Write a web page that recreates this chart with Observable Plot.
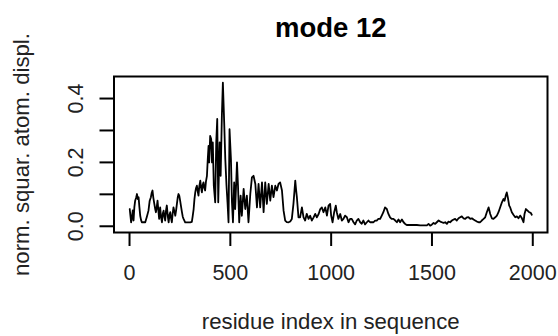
<!DOCTYPE html>
<html><head><meta charset="utf-8">
<script src="https://cdn.jsdelivr.net/npm/d3@7"></script>
<script src="https://cdn.jsdelivr.net/npm/@observablehq/plot@0.6"></script>
<style>html,body{margin:0;padding:0;background:#fff} svg{display:block}</style>
</head><body><div id="chart"></div>
<script>
// residue index (x) and normalised squared atomic displacement (y)
const residue = [
  1,5,8,12,16,20,24,28,33,37,41,45,49,53,57,61,70,78,86,94,100,106,110,114,118,123,127,131,135,139,143,147,150,152,156,161,165,169,173,177,181,185,190,194,198,202,206,210,214,218,223,227,231,235,239,243,247,251,256,260,264,268,276,285,293,301,309,
  313,318,322,326,330,334,338,342,346,351,355,359,363,367,371,375,379,384,388,392,395,400,405,409,413,418,425,430,435,440,447,452,458,463,470,475,481,486,491,496,503,508,513,519,524,533,538,544,551,557,566,574,582,590,599,607,615,
  624,632,640,648,657,665,673,681,690,698,706,714,723,731,739,747,756,764,772,780,789,797,805,813,818,822,826,830,838,846,855,863,871,879,888,896,904,913,921,929,
  938,946,954,962,971,979,987,995,1000,1007,1015,1023,1028,1036,1045,1053,1061,1069,1078,1086,1094,1102,1111,1119,1127,1135,1144,1152,1160,1168,1177,1185,1193,1201,1210,1218,1226,1234,1243,1251,1259,1267,1276,1284,1292,1300,
  1309,1318,1326,1334,1342,1351,1359,1367,1375,1392,1409,1425,1442,1458,1475,1483,1491,1499,1508,1516,1524,1533,1541,1549,1557,1566,1574,1582,1590,1599,1607,1615,1623,1632,1640,1648,1656,1665,1673,1681,
  1690,1698,1706,1714,1723,1731,1739,1747,1756,1764,1772,1781,1789,1797,1805,1814,1822,1830,1838,1847,1855,1860,1866,1871,1876,1883,1888,1896,1904,1913,1921,1929,1938,1946,1954,1959,1966,1974,1982,1990,1995
];
const displ = [
  0.054,0.03,0.0125,0.028,0.05,0.018,0.06,0.08,0.09,0.101,0.085,0.091,0.06,0.033,0.02,0.0125,0.013,0.0125,0.03,0.049,0.08,0.091,0.105,0.112,0.09,0.07,0.055,0.044,0.06,0.08,0.05,0.023,0.045,0.059,0.03,0.0125,0.04,0.049,0.03,0.018,0.05,0.065,0.03,0.0125,0.035,0.044,0.025,0.0125,0.04,0.059,0.045,0.033,0.05,0.07,0.09,0.101,0.095,0.08,0.06,0.044,0.03,0.023,0.0125,0.0125,0.012,0.0125,0.014,
  0.03,0.054,0.085,0.106,0.12,0.127,0.11,0.096,0.125,0.143,0.12,0.106,0.13,0.1375,0.12,0.112,0.14,0.158,0.21,0.252,0.2,0.283,0.273,0.2,0.2625,0.127,0.075,0.2625,0.336,0.075,0.2625,0.158,0.346,0.45,0.315,0.21,0.127,0.075,0.0125,0.304,0.21,0.075,0.0125,0.137,0.054,0.2,0.127,0.0125,0.096,0.033,0.117,0.054,0.096,0.0125,0.101,0.153,0.158,
  0.1325,0.059,0.1325,0.059,0.1375,0.044,0.1375,0.07,0.1325,0.08,0.127,0.091,0.127,0.112,0.1325,0.1375,0.112,0.049,0.018,0.013,0.0125,0.015,0.023,0.07,0.11,0.143,0.115,0.091,0.028,0.028,0.059,0.028,0.018,0.039,0.023,0.033,0.018,0.028,0.039,0.028,
  0.0385,0.054,0.059,0.044,0.059,0.0334,0.0647,0.07,0.0334,0.0126,0.044,0.0647,0.044,0.023,0.0385,0.018,0.023,0.0334,0.0282,0.0126,0.023,0.023,0.0126,0.006,0.018,0.023,0.0126,0.008,0.018,0.006,0.0126,0.018,0.0126,0.0126,0.0126,0.018,0.018,0.023,0.023,0.0334,0.044,0.059,0.054,0.0385,0.0282,0.023,
  0.023,0.018,0.0126,0.021,0.0126,0.021,0.0126,0.0074,0.004,0.004,0.004,0.004,0.003,0.003,0.003,0.0074,0.002,0.005,0.0105,0.0074,0.0126,0.018,0.0147,0.0126,0.0105,0.0126,0.0074,0.0147,0.0126,0.018,0.021,0.023,0.018,0.025,0.028,0.031,0.025,0.023,0.028,0.0282,
  0.023,0.025,0.021,0.018,0.0147,0.0126,0.0126,0.018,0.023,0.0282,0.044,0.059,0.0385,0.025,0.023,0.0282,0.0334,0.044,0.059,0.075,0.0855,0.08,0.096,0.106,0.091,0.0647,0.059,0.044,0.036,0.0282,0.031,0.025,0.0334,0.025,0.0126,0.0385,0.054,0.049,0.044,0.042,0.036
];
const xTicks = [0, 500, 1000, 1500, 2000];
const yTicks = [0, 0.1, 0.2, 0.3, 0.4];
const yTickLabels = [0, 0.2, 0.4];
const chartTitle = "mode 12";
const xTitle = "residue index in sequence";
const yTitle = "norm. squar. atom. displ.";

const data = residue.map((x, i) => ({x, y: displ[i]}));
const font = "'Liberation Sans', Arial, Helvetica, sans-serif";
const fs = 21.5;
const fsTitle = 22.2;

const plot = Plot.plot({
  width: 558, height: 336,
  marginLeft: 113.5, marginRight: 11, marginTop: 76, marginBottom: 104,
  style: {fontFamily: font, background: "white", color: "black", overflow: "visible"},
  x: {domain: [-77, 2073], axis: null},
  y: {domain: [-0.0195, 0.469], axis: null},
  marks: [
    Plot.line(data, {x: "x", y: "y", stroke: "black", strokeWidth: 1.8, strokeLinejoin: "round"}),
    Plot.frame({stroke: "black", strokeWidth: 2}),
    Plot.axisX(xTicks, {tickSize: 14, strokeWidth: 2, tickFormat: () => "", label: null}),
    Plot.axisY(yTicks, {tickSize: 14, strokeWidth: 2, tickFormat: () => "", label: null}),
    Plot.text(xTicks, {x: d => d, text: d => String(d), frameAnchor: "bottom", dy: 47.3, lineAnchor: "bottom", textAnchor: "middle", fontSize: fs, fill: "#222"}),
    Plot.text(yTickLabels, {y: d => d, text: d => d.toFixed(1), frameAnchor: "left", dx: -30.8, rotate: -90, lineAnchor: "bottom", textAnchor: "middle", fontSize: fs, fill: "#222"}),
    Plot.text([xTitle], {text: d => d, frameAnchor: "bottom", dy: 96, lineAnchor: "bottom", textAnchor: "middle", fontSize: fsTitle, fill: "#222"}),
    Plot.text([yTitle], {text: d => d, frameAnchor: "left", dx: -85.5, rotate: -90, lineAnchor: "bottom", textAnchor: "middle", fontSize: fsTitle, fill: "#222"}),
    Plot.text([chartTitle], {text: d => d, frameAnchor: "top", dy: -40, lineAnchor: "bottom", textAnchor: "middle", fontSize: 27.5, fontWeight: "bold", fill: "black"})
  ]
});
document.getElementById("chart").appendChild(plot);
</script>
</body></html>
